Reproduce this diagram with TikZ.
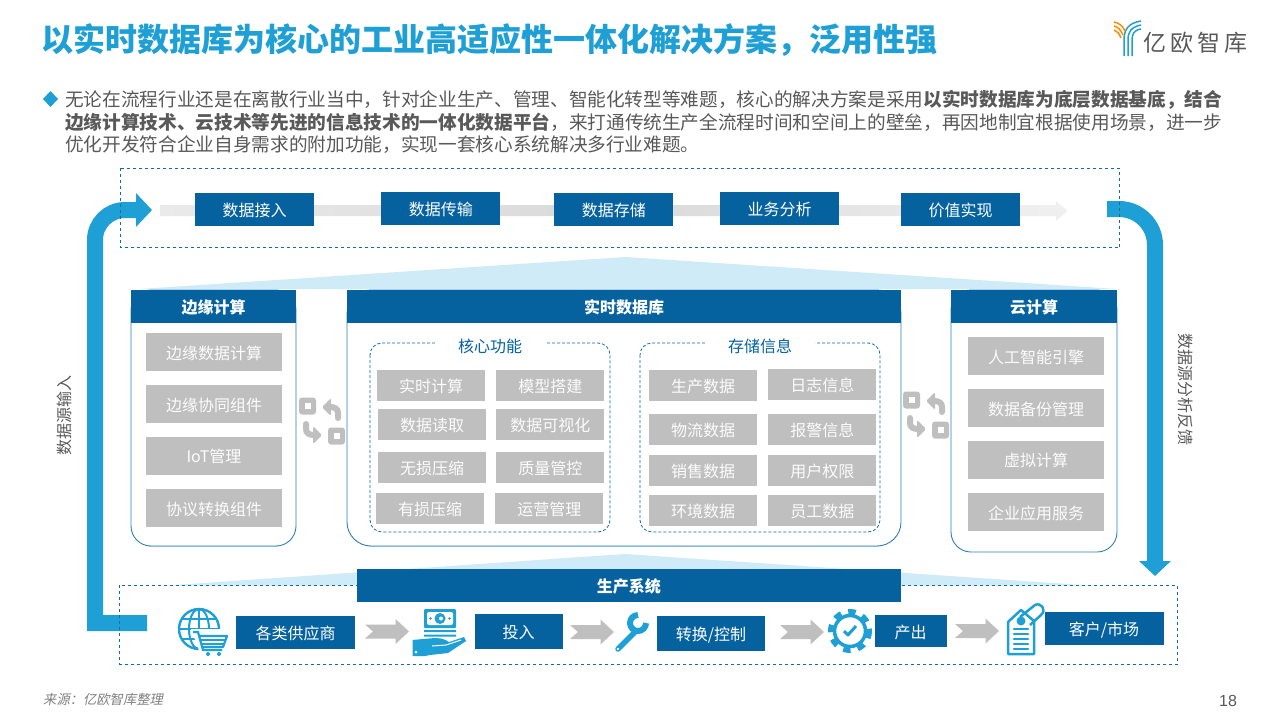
\documentclass[tikz,border=0pt]{standalone}
\usepackage{fontspec}
\setmainfont{Noto Sans CJK SC}
\newfontfamily\slantfont[AutoFakeSlant=0.2]{Noto Sans CJK SC}
\newfontfamily\logofont[LetterSpace=18]{Noto Sans CJK SC}
\newfontfamily\pagefont{Liberation Sans}
\usetikzlibrary{arrows.meta,positioning}
\definecolor{flowblue}{HTML}{1E9FD5}
\definecolor{deepblue}{HTML}{05629F}
\definecolor{dashblue}{HTML}{0F6E9F}
\definecolor{palegrey}{HTML}{BFBFBF}
\definecolor{bodygrey}{HTML}{595959}
\definecolor{paleblue}{HTML}{CEEBF7}
\definecolor{edgeblue}{HTML}{2F80AE}
\definecolor{baseblue}{HTML}{88BBD1}
\definecolor{bandmid}{HTML}{D9D9D9}
\definecolor{bandleft}{HTML}{EAEAEA}
\definecolor{bandright}{HTML}{F0F0F0}
\tikzset{
	labeltext/.style={font=\fontsize{16}{16}\selectfont, text height=15pt, text depth=1pt},
	bluebox/.style={labeltext, fill=deepblue, text=white, inner sep=0pt, minimum width=119pt, minimum height=33pt},
	headbox/.style={bluebox, font=\fontsize{16}{16}\selectfont\bfseries},
	greybox/.style={labeltext, fill=palegrey, text=white!95!palegrey, inner sep=0pt, minimum width=136pt, minimum height=38pt},
	minibox/.style={greybox, minimum width=108pt, minimum height=31pt},
	panel/.style={draw=edgeblue, line width=0.9pt, fill=white, inner sep=0pt},
	panelbase/.style={draw=baseblue, line width=1.4pt},
	dashframe/.style={draw=dashblue, dashed, line width=0.8pt},
	innerframe/.style={draw=dashblue, densely dashed, line width=0.8pt, rounded corners=12pt},
	innertitle/.style={labeltext, text=deepblue, fill=white, inner sep=0pt, minimum width=110pt, minimum height=20pt},
	bigflow/.style={draw=flowblue, line width=16pt},
	sidetext/.style={font=\fontsize{16}{16}\selectfont, text=bodygrey, inner sep=0pt},
	bodytext/.style={font=\fontsize{18.66}{18.66}\selectfont, text=bodygrey, inner sep=0pt, anchor=west},
	pics/swapicon/.style={code={
		\fill[palegrey, rounded corners=3pt] (-23,-23.5) rectangle (-6,-6.5);
		\fill[white] (-17.5,-18) rectangle (-11.5,-12);
		\fill[palegrey, rounded corners=3pt] (6,6.5) rectangle (23,23.5);
		\fill[white] (11.5,12) rectangle (17.5,18);
		\draw[palegrey, line width=6pt, line cap=round] (16,-3) -- (16,-8) .. controls (16,-12) and (13,-14) .. (8,-14);
		\fill[palegrey, rounded corners=1.5pt] (0,-14) -- (9,-23) -- (9,-5) -- cycle;
		\draw[palegrey, line width=6pt, line cap=round] (-16,3) -- (-16,8) .. controls (-16,12) and (-13,14) .. (-8,14);
		\fill[palegrey, rounded corners=1.5pt] (0,14) -- (-9,23) -- (-9,5) -- cycle;
	}},
	pics/greyarrow/.style={code={
		\fill[palegrey] (0,-7) -- (30.5,-7) -- (30.5,-12.5) -- (44,0) -- (30.5,12.5) -- (30.5,7) -- (0,7) -- (8,0) -- cycle;
	}},
	pics/globecart/.style={code={
		\draw[flowblue, line width=2.4pt] (0,0) circle (20);
		\draw[flowblue, line width=2pt] (0,0) ellipse (10 and 20);
		\draw[flowblue, line width=2pt] (0,-20) -- (0,20) (-20,0) -- (20,0) (-17,-10) -- (17,-10) (-17,10) -- (17,10);
		\fill[white] (-8,0) -- (29,0) -- (29,24) -- (1,24) -- cycle;
		\draw[flowblue, line width=2.2pt] (-6,3) -- (-1,3) -- (4,21) -- (23,21);
		\draw[flowblue, line width=2.2pt, line join=round] (0,7) -- (28,7) -- (24,18) -- (3,18);
		\draw[flowblue, line width=2pt] (2,11) -- (26,11) (3,14.5) -- (25,14.5);
		\fill[flowblue] (9,25) circle (2) (20,25) circle (2);
	}},
	pics/cashhand/.style={code={
		\fill[flowblue, rounded corners=1pt] (-16,-23) rectangle (16,-4);
		\fill[white, rounded corners=2pt] (-13,-20) rectangle (13,-7);
		\fill[flowblue] (0,-13.5) circle (5.5);
		\fill[white] (1,-13.5) circle (2);
		\fill[flowblue] (-9.5,-13.5) circle (1.3) (9.5,-13.5) circle (1.3);
		\fill[flowblue] (-16,-2) rectangle (16,0) (-16,2.5) rectangle (16,4.5);
		\fill[flowblue] (-27.5,8) -- (-17,7) -- (-5,6) .. controls (2,6) and (6,8) .. (9,10) -- (24,5) -- (26,9) -- (8,21) -- (-10,23) -- (-15,24) -- (-27.5,24) -- cycle;
		\draw[white, line width=1pt] (-8,14) -- (6,13) -- (21,8);
		\fill[white] (-24,20) circle (1.5);
	}},
	pics/wrenchicon/.style={code={
		\draw[flowblue, line width=5.5pt, line cap=round] (-16,17) -- (1,0);
		\draw[flowblue, line width=6pt] (12,-9) arc[start angle=0, end angle=270, radius=8];
		\fill[white] (-16,17) circle (1.4);
	}},
	pics/gearicon/.style={code={
		\draw[flowblue, line width=3.5pt] (0,0) circle (15.5);
		\draw[flowblue, line width=5pt, dash pattern=on 7.5pt off 7.5pt] (0,0) circle (19.5);
		\draw[flowblue, line width=3pt, line join=round] (-6,0) -- (-2,4) -- (6,-5);
	}},
	pics/tagicon/.style={code={
		\draw[flowblue, line width=2.5pt, line join=round] (-13,-8) -- (0,-20) -- (13,-9) -- (13,24) -- (-13,24) -- cycle;
		\fill[flowblue] (0,-9) circle (4.5);
		\draw[flowblue, line width=2.5pt] (-1,-13) -- (14,-25) .. controls (20,-28) and (26,-20) .. (20,-15) -- (9,-5);
		\draw[flowblue, line width=2.6pt, line cap=round] (-7,-1) -- (7,-1) (-7,4) -- (7,4) (-7,9) -- (7,9) (-7,14) -- (7,14) (-7,19) -- (7,19);
	}},
}
\begin{document}
\begin{tikzpicture}[x=1pt, y=-1pt]
	\fill[white] (0,0) rectangle (1280,720);
	\useasboundingbox (0,0) rectangle (1280,720);

	\node[font=\fontsize{32}{32}\selectfont\bfseries, text=flowblue, inner sep=0pt, anchor=west] (title) at (41,40.5) {以实时数据库为核心的工业高适应性一体化解决方案，泛用性强};

	\draw[flowblue, line width=1.5pt] (1141,21) .. controls (1128,23) and (1124,30) .. (1124,40) -- (1124,56)
		(1141,25) .. controls (1131,27) and (1128,32) .. (1128,40) -- (1128,56)
		(1141,29) .. controls (1134,30) and (1132,34) .. (1132,40) -- (1132,56);
	\draw[orange!90!yellow, line width=1.5pt] (1114,22) .. controls (1119,23) and (1123,26) .. (1125,31)
		(1114,26) .. controls (1118,27) and (1121,30) .. (1123,35)
		(1114,30) .. controls (1117,31) and (1119,33) .. (1121,38);
	\node[font=\logofont\fontsize{23}{23}\selectfont, text=bodygrey, inner sep=0pt, anchor=west] (logo) at (1143,43) {亿欧智库};

	\fill[flowblue] (50.5,91) -- (58,99) -- (50.5,107) -- (43,99) -- cycle;
	\node[bodytext] (line1) at (65,99.5) {无论在流程行业还是在离散行业当中，针对企业生产、管理、智能化转型等难题，核心的解决方案是采用\textbf{以实时数据库为底层数据基底，结合}};
	\node[bodytext] (line2) at (65,122.5) {\textbf{边缘计算技术、云技术等先进的信息技术的一体化数据平台}，来打通传统生产全流程时间和空间上的壁垒，再因地制宜根据使用场景，进一步};
	\node[bodytext] (line3) at (65,145) {优化开发符合企业自身需求的附加功能，实现一套核心系统解决多行业难题。};

	\fill[paleblue] (140,289) -- (625,257) -- (1117,289) -- cycle;
	\fill[paleblue] (167,585.5) -- (625,554) -- (1090,585.5) -- cycle;

	\coordinate (srcstart) at (147,623);
	\coordinate (srcbend) at (95,623);
	\coordinate (srctop) at (95,210);
	\coordinate (srcend) at (152,210);
	\coordinate (fbstart) at (1107,209);
	\coordinate (fbtop) at (1155,209);
	\coordinate (fbend) at (1155,576);
	\draw[bigflow, -{Triangle[length=16pt,width=33pt]}] (srcstart) -- (srcbend) [rounded corners=30pt] -- (srctop) -- (srcend);
	\draw[bigflow, rounded corners=36pt, -{Triangle[length=15pt,width=31pt]}] (fbstart) -- (fbtop) -- (fbend);

	\draw[dashframe] (120,168) rectangle (1119.5,247.5);
	\draw[dashframe] (119.5,585) rectangle (1177,664);

	\shade[left color=bandleft, right color=bandright, middle color=bandmid] (160,205) -- (1056,205) -- (1056,201) -- (1067.5,211) -- (1056,221) -- (1056,216) -- (160,216) -- cycle;

	\node[bluebox] (d1) at (254.5,209.5) {数据接入};
	\node[bluebox] (d2) [right=67pt of d1, yshift=1pt] {数据传输};
	\node[bluebox] (d3) [right=53.5pt of d2, yshift=-1pt] {数据存储};
	\node[bluebox] (d4) [right=46.5pt of d3, yshift=1pt] {业务分析};
	\node[bluebox] (d5) [right=61.5pt of d4, yshift=-1pt] {价值实现};

	\node[panel, rounded corners=20pt, minimum width=165pt, minimum height=256pt] (edgepanel) at (213.5,418) {};
	\draw[panelbase] ([xshift=18pt]edgepanel.south west) -- ([xshift=-18pt]edgepanel.south east);
	\node[headbox, minimum width=165pt, anchor=north] (edgehead) at (edgepanel.north) {边缘计算};
	\node[greybox] (e1) at (214,352) {边缘数据计算};
	\node[greybox] (e2) [below=14pt of e1] {边缘协同组件};
	\node[greybox] (e3) [below=13pt of e2] {IoT管理};
	\node[greybox] (e4) [below=14pt of e3] {协议转换组件};

	\node[panel, rounded corners=24pt, minimum width=554pt, minimum height=256pt] (dbpanel) at (624,418) {};
	\draw[panelbase] ([xshift=22pt]dbpanel.south west) -- ([xshift=-22pt]dbpanel.south east);
	\node[headbox, minimum width=554pt, anchor=north] (dbhead) at (dbpanel.north) {实时数据库};

	\draw[innerframe] (370,343) rectangle (610,532);
	\node[innertitle] (coretitle) at (490,345) {核心功能};
	\node[minibox] (k1) at (431,385.5) {实时计算};
	\node[minibox] (k2) [below=8pt of k1, xshift=1pt] {数据读取};
	\node[minibox] (k3) [below=11pt of k2] {无损压缩};
	\node[minibox] (k4) [below=10pt of k3, xshift=-2pt] {有损压缩};
	\node[minibox] (m1) [right=11pt of k1] {模型搭建};
	\node[minibox] (m2) [right=10pt of k2] {数据可视化};
	\node[minibox] (m3) [right=10pt of k3] {质量管控};
	\node[minibox] (m4) [right=11pt of k4] {运营管理};

	\draw[innerframe] (640,343) rectangle (880,532);
	\node[innertitle] (storetitle) at (760,345) {存储信息};
	\node[minibox] (s1) at (703,385.5) {生产数据};
	\node[minibox] (s2) [below=13pt of s1] {物流数据};
	\node[minibox] (s3) [below=9pt of s2] {销售数据};
	\node[minibox] (s4) [below=9pt of s3] {环境数据};
	\node[minibox] (t1) [right=11pt of s1, yshift=1pt] {日志信息};
	\node[minibox] (t2) [right=11pt of s2] {报警信息};
	\node[minibox] (t3) [right=11pt of s3] {用户权限};
	\node[minibox] (t4) [right=11pt of s4] {员工数据};

	\node[panel, rounded corners=20pt, minimum width=166pt, minimum height=262pt] (cloudpanel) at (1034,421) {};
	\node[headbox, minimum width=166pt, anchor=north] (cloudhead) at (cloudpanel.north) {云计算};
	\node[greybox] (c1) at (1036,356) {人工智能引擎};
	\node[greybox] (c2) [below=14pt of c1] {数据备份管理};
	\node[greybox] (c3) [below=13pt of c2] {虚拟计算};
	\node[greybox] (c4) [below=14pt of c3] {企业应用服务};

	\pic (swapleft) at (322,421) {swapicon};
	\pic (swapright) at (926,415) {swapicon};

	\node[headbox, minimum width=544.5pt] (prodhead) at (628.75,585.5) {生产系统};
	\pic (globe) at (199,629) {globecart};
	\node[bluebox] (p1) at (295.5,632.5) {各类供应商};
	\pic (arrowa) at (365,631.5) {greyarrow};
	\pic (cash) at (440,632) {cashhand};
	\node[bluebox, minimum width=88pt, minimum height=35pt] (p2) at (518.5,631.5) {投入};
	\pic (arrowb) at (570,632) {greyarrow};
	\pic (wrench) at (634,632) {wrenchicon};
	\node[bluebox, minimum width=108pt, minimum height=35pt] (p3) at (711,633.5) {转换/控制};
	\pic (arrowc) at (780,632) {greyarrow};
	\pic (gear) at (850,631) {gearicon};
	\node[bluebox, minimum width=72pt, minimum height=32pt] (p4) at (910.5,631) {产出};
	\pic (arrowd) at (955,631) {greyarrow};
	\pic (tag) at (1021,630) {tagicon};
	\node[bluebox, minimum height=33pt] (p5) at (1104,628.5) {客户/市场};

	\node[sidetext, rotate=90] (srclabel) at (64,415) {数据源输入};
	\node[sidetext, rotate=-90] (fblabel) at (1185.5,389) {数据源分析反馈};

	\node[font=\slantfont\itshape\fontsize{13.3}{13.3}\selectfont, text=gray, inner sep=0pt, anchor=west] (source) at (43,699) {来源：亿欧智库整理};
	\node[font=\pagefont\fontsize{16}{16}\selectfont, text=bodygrey, inner sep=0pt] (pagenum) at (1228,701) {18};
\end{tikzpicture}
\end{document}
